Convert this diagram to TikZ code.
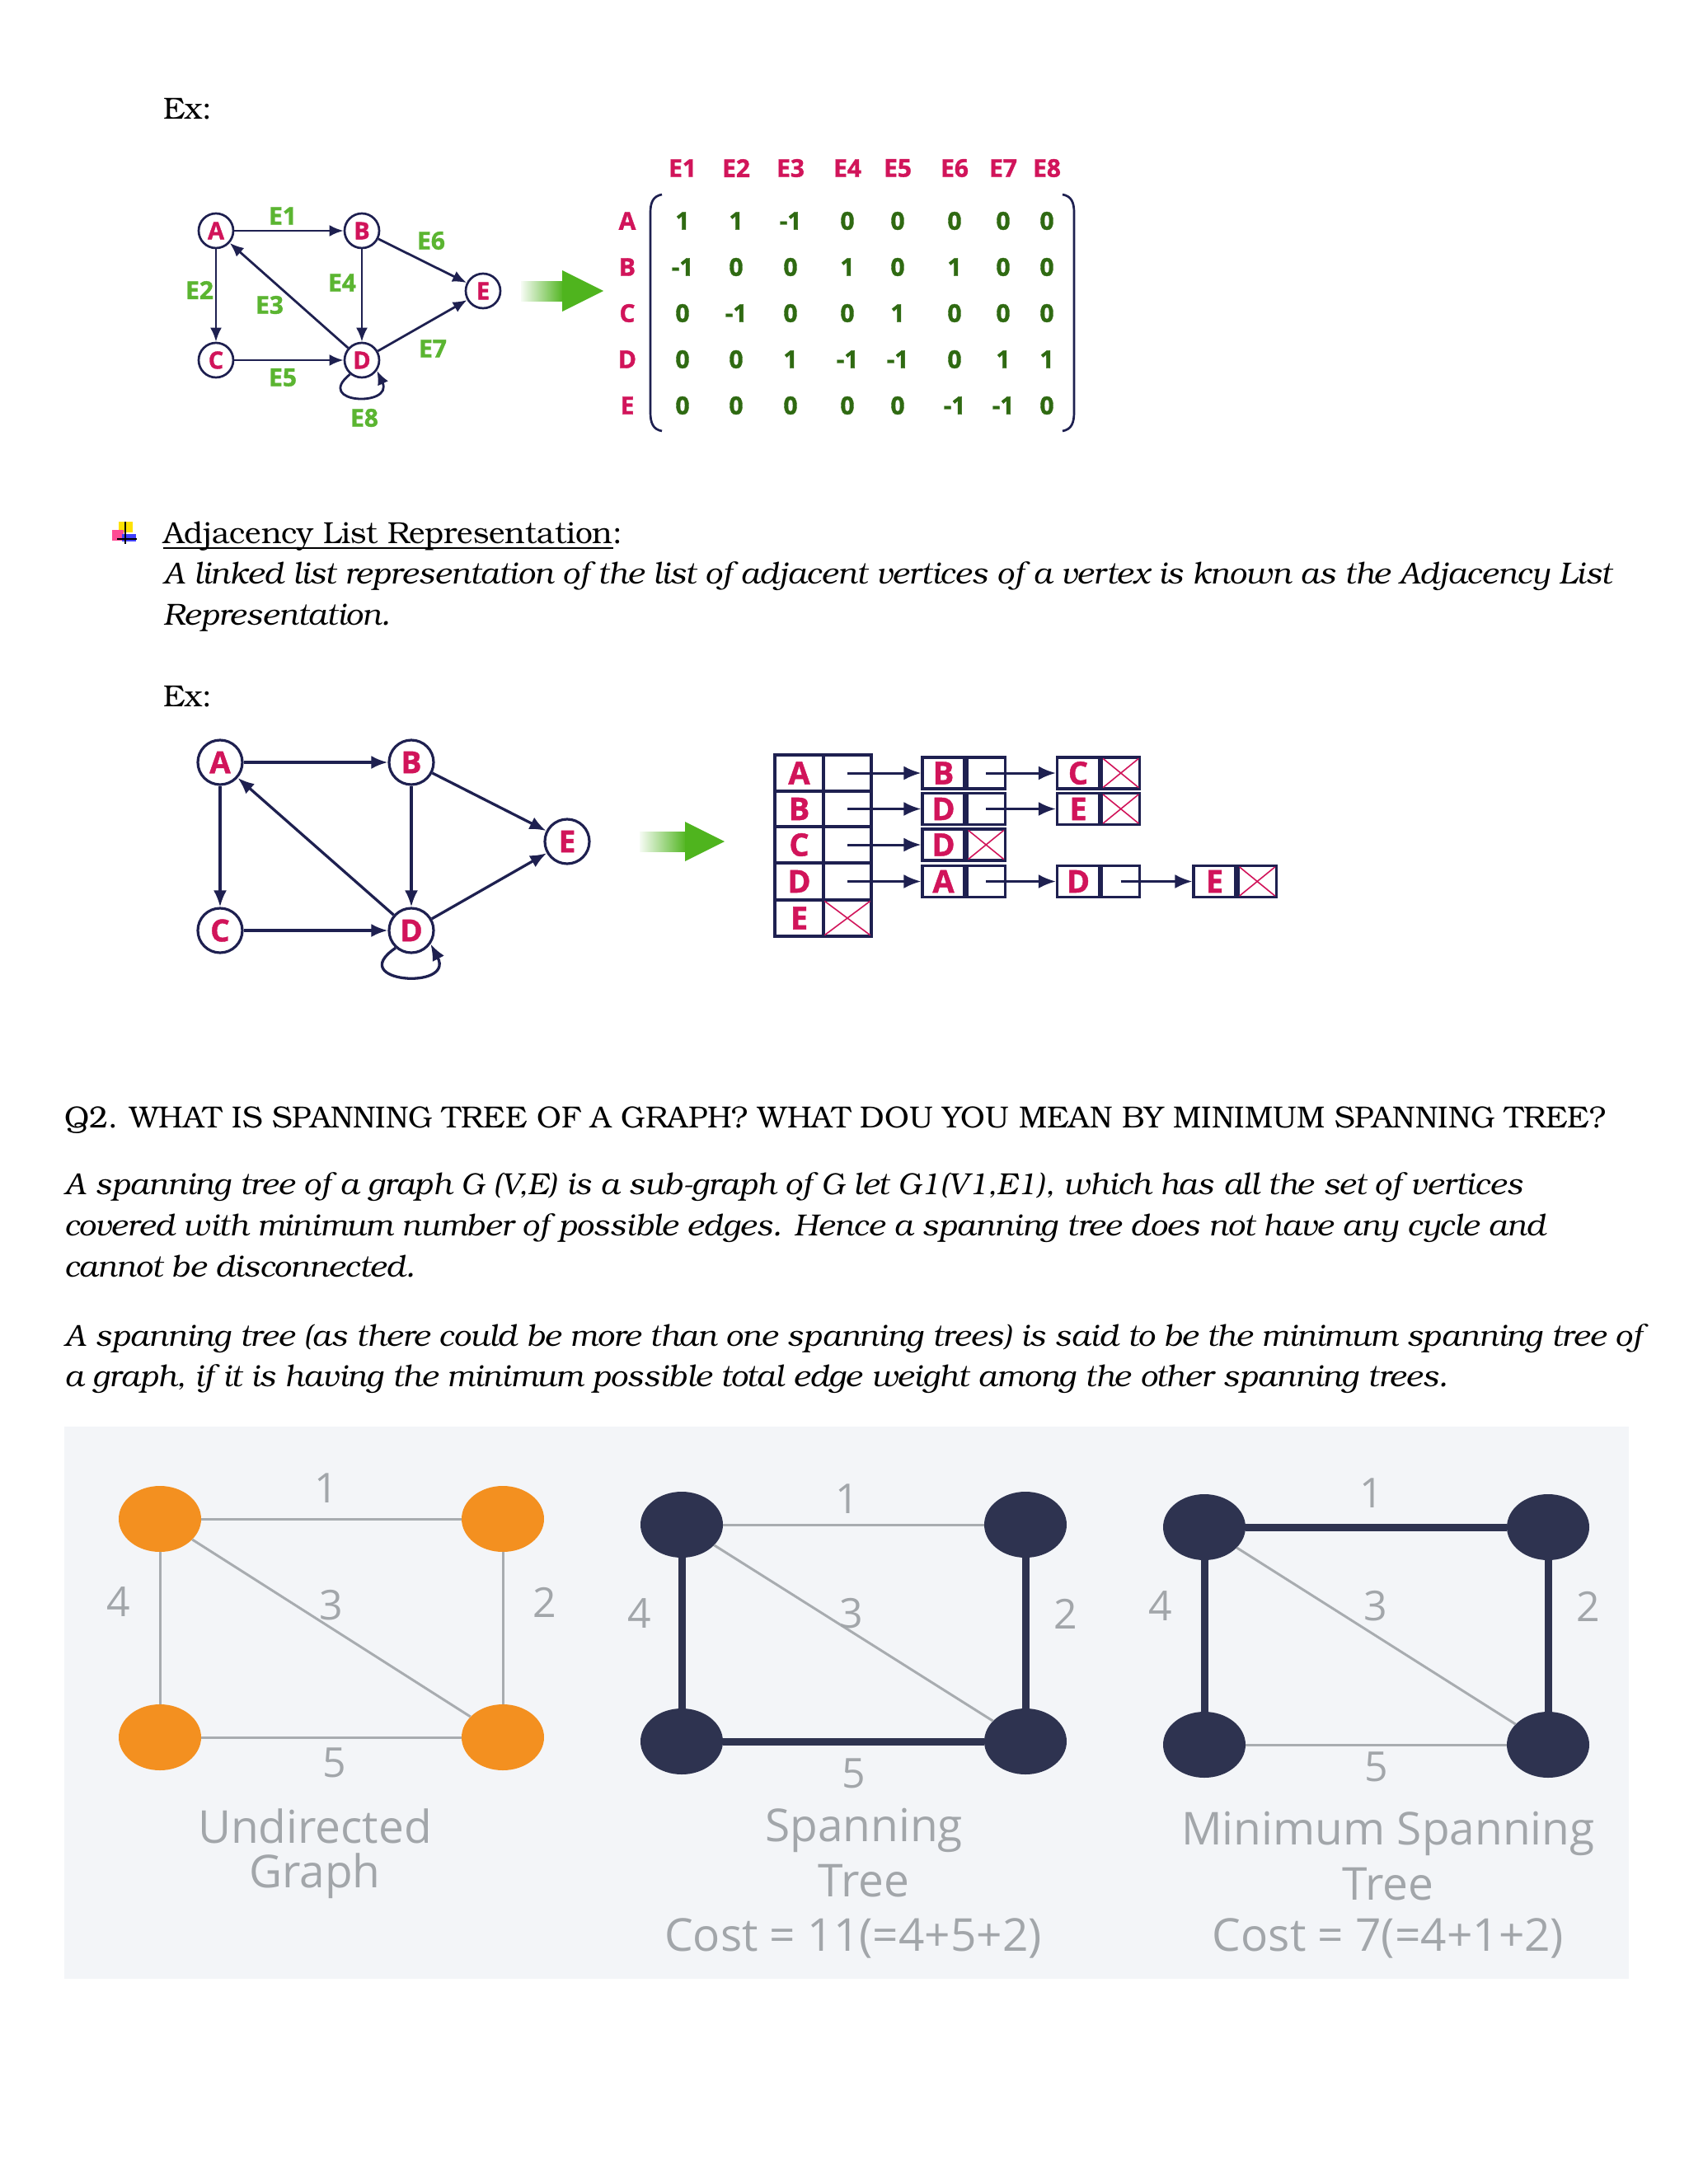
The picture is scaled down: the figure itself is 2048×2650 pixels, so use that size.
\documentclass[tikz,border=0pt]{standalone}
\usepackage{fontspec}
\IfFontExistsTF{texgyrebonum-regular.otf}{%
  \setmainfont{texgyrebonum}[Extension=.otf,UprightFont=*-regular,ItalicFont=*-italic,BoldFont=*-bold,BoldItalicFont=*-bolditalic]}{%
  \setmainfont{Liberation Serif}}
\newfontfamily\osans{Open Sans}
\newfontfamily\osansbf{Open Sans}[FakeBold=1.2]
\usetikzlibrary{arrows.meta,shapes.geometric,calc}
\definecolor{navy}{HTML}{1E2050}
\definecolor{crim}{HTML}{D1145A}
\definecolor{egreen}{HTML}{5BB531}
\definecolor{mgreen}{HTML}{2F6A12}
\definecolor{agreen}{HTML}{4FB41E}
\definecolor{orng}{HTML}{F39020}
\definecolor{dnode}{HTML}{2E3350}
\definecolor{lgray}{HTML}{A8ACB0}
\definecolor{tgray}{HTML}{A2A6AA}
\definecolor{panel}{HTML}{F3F5F8}
\begin{document}
\begin{tikzpicture}[x=1pt,y=-1pt,
  txt/.style={anchor=base west,inner sep=0pt,font=\fontsize{37}{45}\selectfont},
  itxt/.style={anchor=base west,inner sep=0pt,font=\fontsize{37}{45}\selectfont\itshape},
  vone/.style={circle,draw=navy,line width=2.7pt,fill=white,minimum size=42pt,inner sep=0pt,text=crim,font=\osansbf\bfseries\fontsize{29}{29}\selectfont},
  vtwo/.style={circle,draw=navy,line width=3.2pt,fill=white,minimum size=54pt,inner sep=0pt,text=crim,font=\osansbf\bfseries\fontsize{37}{37}\selectfont},
  elab/.style={inner sep=0pt,text=egreen,font=\osansbf\bfseries\fontsize{30}{30}\selectfont},
  edone/.style={draw=navy,line width=2.8pt,-{Latex[length=17pt,width=14pt]}},
  edtwo/.style={draw=navy,line width=3.3pt,-{Latex[length=20pt,width=16pt]}},
  mhead/.style={inner sep=0pt,text=crim,font=\osansbf\bfseries\fontsize{30}{30}\selectfont},
  mval/.style={inner sep=0pt,text=mgreen,font=\osansbf\bfseries\fontsize{30}{30}\selectfont},
  lcell/.style={rectangle,draw=navy,line width=3.2pt,inner sep=0pt,text=crim,font=\osansbf\bfseries\fontsize{38}{38}\selectfont},
  ptr/.style={draw=navy,line width=3pt,-{Latex[length=21pt,width=17pt]}},
  xmark/.style={draw=crim,line width=1.6pt},
  gnode/.style={ellipse,minimum width=100pt,minimum height=80pt,inner sep=0pt},
  onode/.style={gnode,fill=orng},
  dnodes/.style={gnode,fill=dnode},
  thin/.style={draw=lgray,line width=3pt},
  thick/.style={draw=dnode,line width=9pt},
  glab/.style={inner sep=0pt,text=tgray,font=\osans\fontsize{50}{50}\selectfont},
  gcap/.style={inner sep=0pt,text=tgray,font=\osans\fontsize{55}{55}\selectfont}
]
\useasboundingbox (0,0) rectangle (2048,2650);
\fill[white] (0,0) rectangle (2048,2650);

% ---------- Top text ----------
\node[txt] (ex1) at (198,144) {Ex:};

% ---------- Graph 1 ----------
\node[vone] (A1) at (262,280) {A};
\node[vone] (B1) at (439,280) {B};
\node[vone] (C1) at (262,437) {C};
\node[vone] (D1) at (439,437) {D};
\node[vone] (E1) at (586,353) {E};
\draw[edone] (A1) -- (B1);
\draw[edone] (A1) -- (C1);
\draw[edone] (D1) -- (A1);
\draw[edone] (B1) -- (D1);
\draw[edone] (C1) -- (D1);
\draw[edone] (B1) -- (E1);
\draw[edone] (D1) -- (E1);
\draw[edone] (D1.230) .. controls (380,490) and (478,494) .. (D1.-35);
\node[elab] (le1) at (343,262) {E1};
\node[elab] (le2) at (242,352) {E2};
\node[elab] (le3) at (327,370) {E3};
\node[elab] (le4) at (415,343) {E4};
\node[elab] (le5) at (343,458) {E5};
\node[elab] (le6) at (523,292) {E6};
\node[elab] (le7) at (525,423) {E7};
\node[elab] (le8) at (442,507) {E8};

% green arrow 1
\shade[left color=agreen!5,right color=agreen] (632,341) rectangle (684,365);
\fill[agreen] (682,328) -- (732,353) -- (682,378) -- cycle;

% ---------- Incidence matrix ----------
\foreach \h [count=\i] in {E1,E2,E3,E4,E5,E6,E7,E8}{
  \pgfmathsetmacro{\cx}{{828,893,959,1028,1089,1158,1217,1270}[\i-1]}
  \node[mhead] (mh\i) at (\cx,204) {\h};
}
\foreach \r/\ry [count=\j] in {A/268,B/324,C/380,D/436,E/492}{
  \node[mhead] (mr\j) at (761,\ry) {\r};
}
\foreach \row [count=\j] in {{1,1,-1,0,0,0,0,0},{-1,0,0,1,0,1,0,0},{0,-1,0,0,1,0,0,0},{0,0,1,-1,-1,0,1,1},{0,0,0,0,0,-1,-1,0}}{
  \foreach \v [count=\i] in \row {
    \pgfmathsetmacro{\cx}{{828,893,959,1028,1089,1158,1217,1270}[\i-1]}
    \pgfmathsetmacro{\cy}{{268,324,380,436,492}[\j-1]}
    \node[mval] (m\j-\i) at (\cx,\cy) {\v};
  }
}
\draw[navy,line width=2.7pt] (803,236) .. controls (792,238) and (789,246) .. (789,258) -- (789,500) .. controls (789,513) and (792,521) .. (803,523);
\draw[navy,line width=2.7pt] (1289,236) .. controls (1300,238) and (1303,246) .. (1303,258) -- (1303,500) .. controls (1303,513) and (1300,521) .. (1289,523);

% ---------- Adjacency list heading ----------
\fill[yellow!85!orange] (144,633) rectangle (161,646);
\fill[red!60!magenta!70] (136,643) rectangle (150,656);
\fill[blue!75] (148,648) rectangle (165,657);
\draw[black,line width=2pt] (152,633) -- (152,660);
\draw[black,line width=2pt] (142,654) -- (166,654);
\node[txt] (hd) at (198,659) {Adjacency List Representation};
\node[txt] (hdc) at (hd.base east) {:};
\draw[line width=2pt] ($(hd.base west)+(0,6)$) -- ($(hd.base east)+(0,6)$);
\node[itxt] (l1) at (198,708) {A linked list representation of the list of adjacent vertices of a vertex is known as the Adjacency List};
\node[itxt] (l2) at (198,758) {Representation.};
\node[txt] (ex2) at (198,857) {Ex:};

% ---------- Graph 2 ----------
\node[vtwo] (A2) at (267,925) {A};
\node[vtwo] (B2) at (499,925) {B};
\node[vtwo] (C2) at (267,1129) {C};
\node[vtwo] (D2) at (499,1129) {D};
\node[vtwo] (E2) at (688,1021) {E};
\draw[edtwo] (A2) -- (B2);
\draw[edtwo] (A2) -- (C2);
\draw[edtwo] (D2) -- (A2);
\draw[edtwo] (B2) -- (D2);
\draw[edtwo] (C2) -- (D2);
\draw[edtwo] (B2) -- (E2);
\draw[edtwo] (D2) -- (E2);
\draw[edtwo] (D2.228) .. controls (418,1192) and (552,1202) .. (D2.-35);

% green arrow 2
\shade[left color=agreen!5,right color=agreen] (776,1009) rectangle (833,1033);
\fill[agreen] (831,997) -- (879,1021) -- (831,1045) -- cycle;

% ---------- Adjacency list ----------
\foreach \r/\ry in {A/938,B/981.5,C/1025,D/1069.5,E/1114}{
  \node[lcell,minimum width=59pt,minimum height=44pt] (L\r) at (969.5,\ry) {\r};
  \node[lcell,minimum width=58pt,minimum height=44pt] (P\r) at (1028,\ry) {};
}
\draw[xmark] ([shift={(3,3)}]PE.north west) -- ([shift={(-3,-3)}]PE.south east);
\draw[xmark] ([shift={(-3,3)}]PE.north east) -- ([shift={(3,-3)}]PE.south west);
\foreach \n/\t/\lx/\ny/\nil in {aB/B/1144.5/938/0, aC/C/1308/938/1, bD/D/1144.5/981.5/0, bE/E/1308/981.5/1, cD/D/1144.5/1025/1, dA/A/1144.5/1069.5/0, dD/D/1308/1069.5/0, dE/E/1473.5/1069.5/1}{
  \node[lcell,minimum width=51pt,minimum height=38pt] (n\n) at (\lx,\ny) {\t};
  \node[lcell,minimum width=46pt,minimum height=38pt,anchor=west] (q\n) at (n\n.east) {};
  \ifnum\nil=1
    \draw[xmark] ([shift={(3,3)}]q\n.north west) -- ([shift={(-3,-3)}]q\n.south east);
    \draw[xmark] ([shift={(-3,3)}]q\n.north east) -- ([shift={(3,-3)}]q\n.south west);
  \fi
}
\draw[ptr] (PA.center) -- (naB.west);
\draw[ptr] (qaB.center) -- (naC.west);
\draw[ptr] (PB.center) -- (nbD.west);
\draw[ptr] (qbD.center) -- (nbE.west);
\draw[ptr] (PC.center) -- (ncD.west);
\draw[ptr] (PD.center) -- (ndA.west);
\draw[ptr] (qdA.center) -- (ndD.west);
\draw[ptr] (qdD.center) -- (ndE.west);

% ---------- Q2 ----------
\node[txt] (q2) at (78,1368) {Q2.\hspace{14pt}WHAT IS SPANNING TREE OF A GRAPH? WHAT DOU YOU MEAN BY MINIMUM SPANNING TREE?};
\node[itxt] (p1a) at (78,1449) {A spanning tree of a graph G (V,E) is a sub-graph of G let G1(V1,E1), which has all the set of vertices};
\node[itxt] (p1b) at (78,1499) {covered with minimum number of possible edges. Hence a spanning tree does not have any cycle and};
\node[itxt] (p1c) at (78,1549) {cannot be disconnected.};
\node[itxt] (p2a) at (78,1633) {A spanning tree (as there could be more than one spanning trees) is said to be the minimum spanning tree of};
\node[itxt] (p2b) at (78,1682) {a graph, if it is having the minimum possible total edge weight among the other spanning trees.};

% ---------- Bottom panel ----------
\fill[panel] (78,1731) rectangle (1976,2401);

% graph G1 (undirected)
\node[onode] (ga1) at (194,1843) {};
\node[onode] (gb1) at (610,1843) {};
\node[onode] (gc1) at (194,2108) {};
\node[onode] (gd1) at (610,2108) {};
\draw[thin] (ga1) -- (gb1);
\draw[thin] (ga1) -- (gc1);
\draw[thin] (gb1) -- (gd1);
\draw[thin] (gc1) -- (gd1);
\draw[thin] (ga1) -- (gd1);
\node[glab] (w11) at (396,1806) {1};
\node[glab] (w14) at (144,1944) {4};
\node[glab] (w13) at (402,1948) {3};
\node[glab] (w12) at (661,1944) {2};
\node[glab] (w15) at (406,2139) {5};
\node[gcap] (c1a) at (382,2216) {Undirected};
\node[gcap] (c1b) at (382,2276) {Graph};

% graph G2 (spanning tree)
\node[dnodes] (ga2) at (827,1850) {};
\node[dnodes] (gb2) at (1244,1850) {};
\node[dnodes] (gc2) at (827,2113) {};
\node[dnodes] (gd2) at (1244,2113) {};
\draw[thin] (ga2) -- (gb2);
\draw[thin] (ga2) -- (gd2);
\draw[thick] (ga2) -- (gc2);
\draw[thick] (gb2) -- (gd2);
\draw[thick] (gc2) -- (gd2);
\node[glab] (w21) at (1028,1819) {1};
\node[glab] (w24) at (776,1958) {4};
\node[glab] (w23) at (1033,1958) {3};
\node[glab] (w22) at (1293,1958) {2};
\node[glab] (w25) at (1036,2152) {5};
\node[gcap] (c2a) at (1048,2221) {Spanning};
\node[gcap] (c2b) at (1048,2282) {Tree};
\node[gcap] (c2c) at (1035,2352) {Cost = 11(=4+5+2)};

% graph G3 (minimum spanning tree)
\node[dnodes] (ga3) at (1461,1853) {};
\node[dnodes] (gb3) at (1878,1853) {};
\node[dnodes] (gc3) at (1461,2117) {};
\node[dnodes] (gd3) at (1878,2117) {};
\draw[thin] (ga3) -- (gd3);
\draw[thin] (gc3) -- (gd3);
\draw[thick] (ga3) -- (gb3);
\draw[thick] (ga3) -- (gc3);
\draw[thick] (gb3) -- (gd3);
\node[glab] (w31) at (1664,1812) {1};
\node[glab] (w34) at (1408,1949) {4};
\node[glab] (w33) at (1669,1949) {3};
\node[glab] (w32) at (1927,1949) {2};
\node[glab] (w35) at (1670,2144) {5};
\node[gcap] (c3a) at (1684,2225) {Minimum Spanning};
\node[gcap] (c3b) at (1684,2286) {Tree};
\node[gcap] (c3c) at (1684,2352) {Cost = 7(=4+1+2)};
\end{tikzpicture}
\end{document}
